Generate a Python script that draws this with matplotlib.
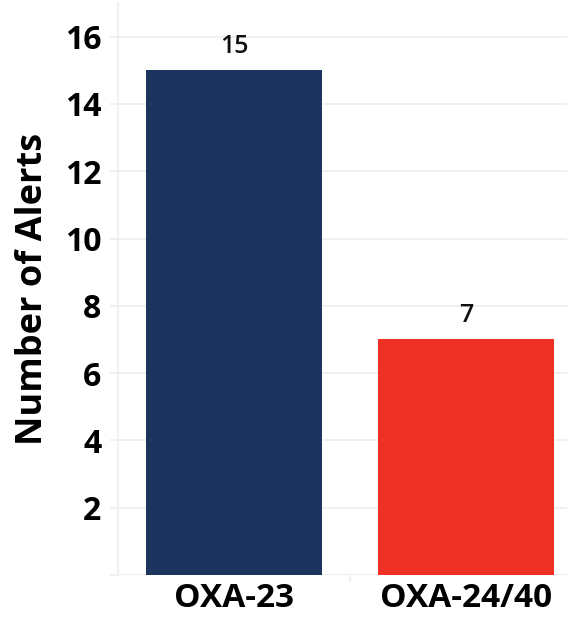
import numpy as np
import matplotlib.pyplot as plt

# Data
categories = ['OXA-23', 'OXA-24/40']
alerts = [15, 7]
bar_colors = ['#1c355e', '#ee3124']
y_ticks = [0, 2, 4, 6, 8, 10, 12, 14, 16]
y_tick_labels = ['', '2', '4', '6', '8', '10', '12', '14', '16']

plt.rcParams['font.family'] = ['Open Sans', 'DejaVu Sans']

fig = plt.figure(figsize=(5.67, 6.2), dpi=100)
ax = fig.add_axes([0.208, 0.0726, 0.792, 0.9226])

x = np.arange(len(categories))
bars = ax.bar(x, alerts, width=0.755, color=bar_colors, zorder=3)

for rect, val in zip(bars, alerts):
    ax.annotate(str(val), (rect.get_x() + rect.get_width() / 2, rect.get_height()),
                xytext=(0, 8), textcoords='offset points', ha='center', va='bottom',
                fontsize=18, fontweight='semibold', color='#111111')

ax.set_xlim(-0.5, 1.435)
ax.set_ylim(0, 17)
ax.set_yticks(y_ticks)
ax.set_yticklabels(y_tick_labels, fontsize=23, fontweight='bold')
ax.set_xticks(x)
ax.set_xticklabels(categories, fontsize=24, fontweight='bold')
ax.set_xticks([0.5], minor=True)
ax.set_ylabel('Number of Alerts', fontsize=26, fontweight='bold', labelpad=10)

ax.grid(axis='y', color='#eeeeee', linewidth=1.2, zorder=0)
for side in ['top', 'right', 'bottom']:
    ax.spines[side].set_visible(False)
ax.spines['left'].set_color('#eeeeee')
ax.spines['left'].set_linewidth(1.2)
ax.axhline(0, color='#eeeeee', linewidth=1.5, zorder=1)

ax.tick_params(axis='y', length=6, color='#eeeeee', width=1.2, pad=6)
ax.tick_params(axis='x', which='major', length=0, pad=5)
ax.tick_params(axis='x', which='minor', length=5, color='#eeeeee', width=1.2)

fig.savefig('out.png', dpi=100)
